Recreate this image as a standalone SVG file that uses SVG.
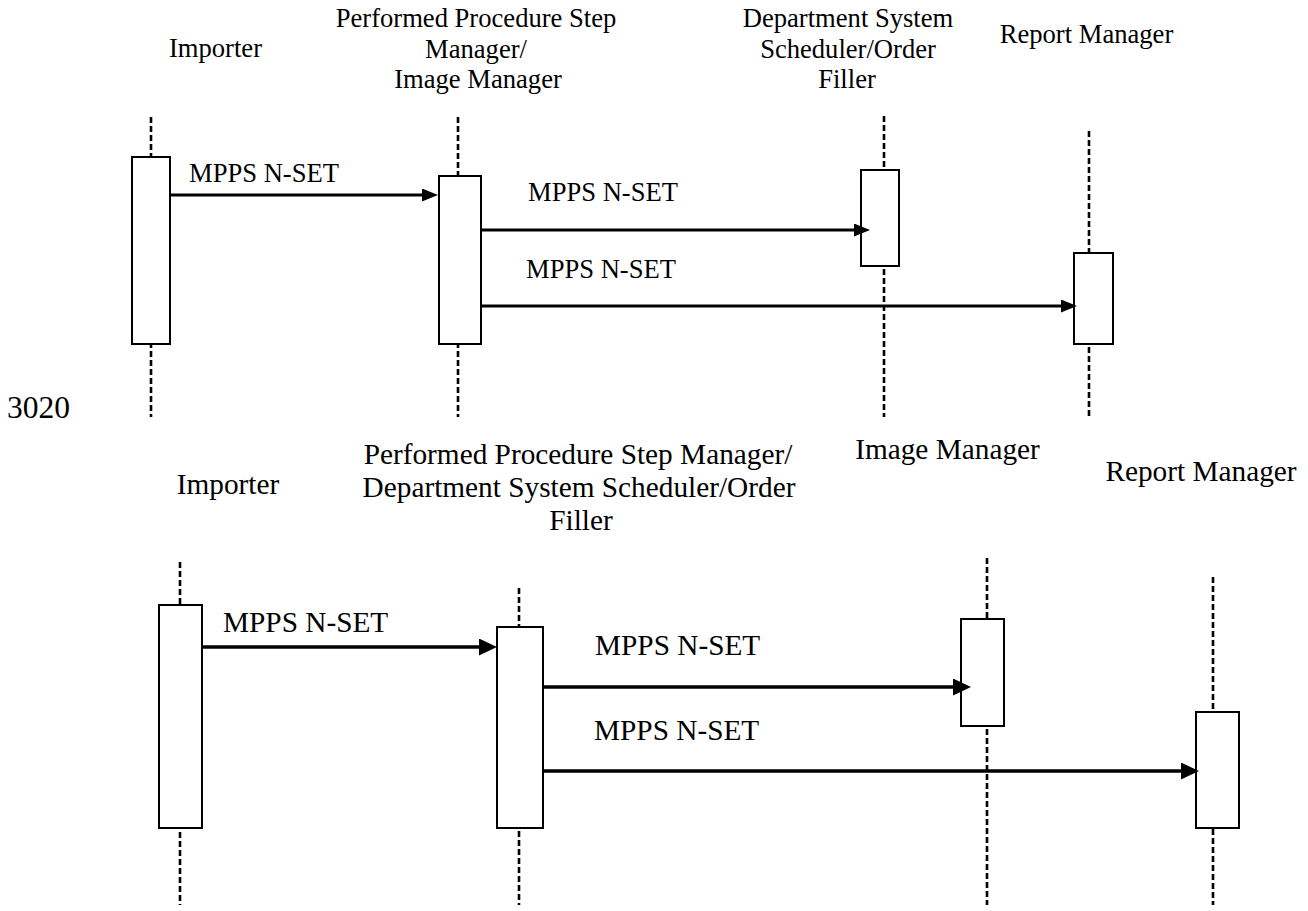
<svg xmlns="http://www.w3.org/2000/svg" width="1308" height="911" viewBox="0 0 1308 911">
<style>
  text { font-family: "Liberation Serif", "Times New Roman", serif; fill: #000; }
  .t1 { font-size: 26.6px; }
  .t2 { font-size: 29.3px; }
  .mid { text-anchor: middle; }
  .life { stroke: #000; stroke-width: 2.6; stroke-dasharray: 6 3; fill: none; }
  .act { fill: #fff; stroke: #000; stroke-width: 2; }
  .msg1 { stroke: #000; stroke-width: 3; fill: none; marker-end: url(#ah1); }
  .msg2 { stroke: #000; stroke-width: 3.3; fill: none; marker-end: url(#ah2); }
</style>
<defs>
  <marker id="ah1" viewBox="0 0 16 13" refX="0" refY="6.5" markerWidth="16" markerHeight="13" markerUnits="userSpaceOnUse" orient="auto">
    <path d="M0,0 L16,6.5 L0,13 Z" fill="#000"/>
  </marker>
  <marker id="ah2" viewBox="0 0 18 17" refX="0" refY="8.5" markerWidth="18" markerHeight="17" markerUnits="userSpaceOnUse" orient="auto">
    <path d="M0,0 L18,8.5 L0,17 Z" fill="#000"/>
  </marker>
</defs>
<rect width="1308" height="911" fill="#fff"/>

<!-- Top diagram -->
<g id="top-importer">
  <text class="t1 mid" x="215.5" y="57">Importer</text>
  <line class="life" x1="151" y1="117" x2="151" y2="417"/>
  <rect class="act" x="132" y="157" width="38" height="187"/>
</g>
<g id="top-ppsm-im">
  <text class="t1 mid" x="476" y="27">Performed Procedure Step</text>
  <text class="t1 mid" x="476" y="57.5">Manager/</text>
  <text class="t1 mid" x="478" y="88">Image Manager</text>
  <line class="life" x1="458" y1="117" x2="458" y2="417"/>
  <rect class="act" x="439" y="176" width="42" height="168"/>
</g>
<g id="top-dss-of">
  <text class="t1 mid" x="848" y="27">Department System</text>
  <text class="t1 mid" x="848" y="57.5">Scheduler/Order</text>
  <text class="t1 mid" x="847" y="88">Filler</text>
  <line class="life" x1="884" y1="116" x2="884" y2="417"/>
  <rect class="act" x="861" y="170" width="38" height="96"/>
</g>
<g id="top-report-manager">
  <text class="t1 mid" x="1086.5" y="43">Report Manager</text>
  <line class="life" x1="1089" y1="131" x2="1089" y2="417"/>
  <rect class="act" x="1074" y="253" width="39" height="91"/>
</g>

<text id="line-number" class="t2" x="7" y="418" style="font-size:31.5px">3020</text>

<!-- Bottom diagram -->
<g id="bot-importer">
  <text class="t2 mid" x="228" y="494">Importer</text>
  <line class="life" x1="180" y1="562" x2="180" y2="905"/>
  <rect class="act" x="159" y="605" width="43" height="223"/>
</g>
<g id="bot-ppsm-dss-of">
  <text class="t2 mid" x="578" y="464">Performed Procedure Step Manager/</text>
  <text class="t2 mid" x="579" y="497">Department System Scheduler/Order</text>
  <text class="t2 mid" x="581" y="530">Filler</text>
  <line class="life" x1="519" y1="588" x2="519" y2="905"/>
  <rect class="act" x="497" y="627" width="46" height="201"/>
</g>
<g id="bot-image-manager">
  <text class="t2 mid" x="947.5" y="459">Image Manager</text>
  <line class="life" x1="987" y1="558" x2="987" y2="905"/>
  <rect class="act" x="961" y="619" width="43" height="107"/>
</g>
<g id="bot-report-manager">
  <text class="t2 mid" x="1201" y="481">Report Manager</text>
  <line class="life" x1="1213" y1="577" x2="1213" y2="905"/>
  <rect class="act" x="1196" y="712" width="43" height="116"/>
</g>

<g id="connectors">
  <line class="msg1" x1="170" y1="195" x2="422" y2="195"/>
  <text class="t1" x="189" y="182">MPPS N-SET</text>
  <line class="msg1" x1="481" y1="230" x2="854" y2="230"/>
  <text class="t1" x="528" y="201">MPPS N-SET</text>
  <line class="msg1" x1="481" y1="306" x2="1061" y2="306"/>
  <text class="t1" x="526" y="278">MPPS N-SET</text>

  <line class="msg2" x1="202" y1="647" x2="479" y2="647"/>
  <text class="t2" x="223" y="632">MPPS N-SET</text>
  <line class="msg2" x1="543" y1="687" x2="953" y2="687"/>
  <text class="t2" x="595" y="655">MPPS N-SET</text>
  <line class="msg2" x1="543" y1="771" x2="1181" y2="771"/>
  <text class="t2" x="594" y="740">MPPS N-SET</text>
</g>
</svg>
